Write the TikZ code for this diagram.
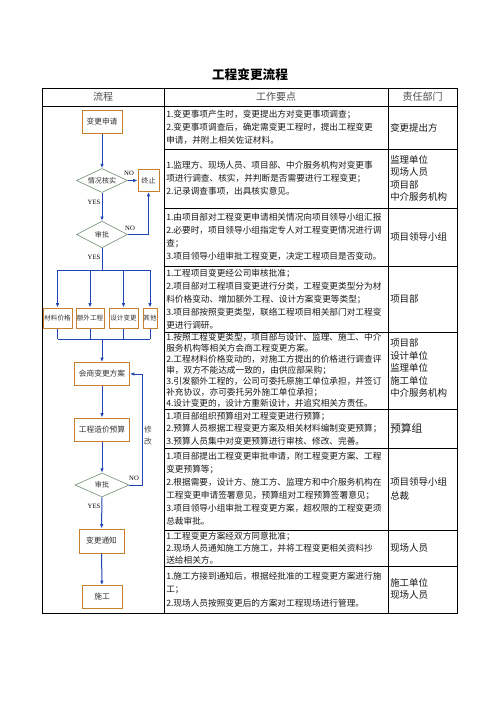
\documentclass[tikz,border=0pt]{standalone}
\usepackage{fontspec}
\newfontfamily\cjk{Noto Sans CJK SC}
\newfontfamily\yesfont{Liberation Serif}
\usetikzlibrary{shapes.geometric,arrows.meta}
\definecolor{boxor}{RGB}{200,128,48}
\definecolor{diag}{RGB}{125,150,125}
\definecolor{arrb}{RGB}{30,70,180}
\definecolor{txt}{RGB}{25,25,25}
\begin{document}
\begin{tikzpicture}[x=0.75pt,y=-0.75pt,
  fb/.style={draw=boxor,line width=0.75pt,fill=white,inner sep=0pt,font=\cjk\fontsize{5.8}{7}\selectfont,text=black!80},
  sm/.style={font=\cjk\fontsize{4.9}{6}\selectfont},
  dia/.style={diamond,draw=diag,line width=0.5pt,fill=white,inner sep=0pt,aspect=2,font=\cjk\fontsize{5.3}{6}\selectfont,text=black!80},
  arr/.style={draw=arrb,line width=0.75pt,-{Latex[length=3.2pt,width=2.6pt]}},
  ln/.style={draw=arrb,line width=0.75pt},
  yn/.style={font=\yesfont\fontsize{5}{5}\selectfont,inner sep=0pt},
  tbl/.style={draw=black,line width=0.6pt},
  rowtxt/.style={anchor=west,align=left,inner sep=0pt,font=\cjk\fontsize{6.5}{9.75}\selectfont,text=txt},
  deptxt/.style={anchor=west,align=left,inner sep=0pt,font=\cjk\fontsize{7.1}{9.4}\selectfont,text=txt},
  head/.style={font=\cjk\fontsize{7.5}{9}\selectfont,text=black!70,inner sep=0pt}
]
\useasboundingbox[fill=white] (0,0) rectangle (496,702);

% title
\node[font=\cjk\bfseries\fontsize{9.5}{11}\selectfont,inner sep=0pt] (title) at (250,75) {工程变更流程};

% table
\draw[tbl] (42,88) rectangle (457,613);
\draw[tbl] (42,106) -- (457,106);
\foreach \y in {149,208,266,332,409,448,530,566} \draw[tbl] (164.5,\y) -- (457,\y);
\draw[tbl] (164.5,88) -- (164.5,613);
\draw[tbl] (388,88) -- (388,613);

\node[head] (h1) at (103,97) {流程};
\node[head] (h2) at (276,97) {工作要点};
\node[head] (h3) at (422.5,97) {责任部门};

% column 2 text
\node[rowtxt] (r1) at (166,127.5) {1.变更事项产生时，变更提出方对变更事项调查；\\2.变更事项调查后，确定需变更工程时，提出工程变更\\申请，并附上相关佐证材料。};
\node[rowtxt] (r2) at (166,178.5) {1.监理方、现场人员、项目部、中介服务机构对变更事\\项进行调查、核实，并判断是否需要进行工程变更；\\2.记录调查事项，出具核实意见。};
\node[rowtxt] (r3) at (166,237) {1.由项目部对工程变更申请相关情况向项目领导小组汇报\\2.必要时，项目领导小组指定专人对工程变更情况进行调\\查；\\3.项目领导小组审批工程变更，决定工程项目是否变动。};
\node[rowtxt] (r4) at (166,299) {1.工程项目变更经公司审核批准；\\2.项目部对工程项目变更进行分类，工程变更类型分为材\\料价格变动、增加额外工程、设计方案变更等类型；\\3.项目部按照变更类型，联络工程项目相关部门对工程变\\更进行调研。};
\node[rowtxt,font=\cjk\fontsize{6.5}{8.25}\selectfont] (r5) at (166,370.5) {1.按照工程变更类型，项目部与设计、监理、施工、中介\\服务机构等相关方会商工程变更方案。\\2.工程材料价格变动的，对施工方提出的价格进行调查评\\审，双方不能达成一致的，由供应部采购；\\3.引发额外工程的，公司可委托原施工单位承担，并签订\\补充协议，亦可委托另外施工单位承担；\\4.设计变更的，设计方重新设计，并追究相关方责任。};
\node[rowtxt,font=\cjk\fontsize{6.5}{9.4}\selectfont] (r6) at (166,428.5) {1.项目部组织预算组对工程变更进行预算；\\2.预算人员根据工程变更方案及相关材料编制变更预算；\\3.预算人员集中对变更预算进行审核、修改、完善。};
\node[rowtxt] (r7) at (166,489) {1.项目部提出工程变更审批申请，附工程变更方案、工程\\变更预算等；\\2.根据需要，设计方、施工方、监理方和中介服务机构在\\工程变更申请签署意见，预算组对工程预算签署意见；\\3.项目领导小组审批工程变更方案，超权限的工程变更须\\总裁审批。};
\node[rowtxt,font=\cjk\fontsize{6.5}{9}\selectfont] (r8) at (166,548) {1.工程变更方案经双方同意批准；\\2.现场人员通知施工方施工，并将工程变更相关资料抄\\送给相关方。};
\node[rowtxt,font=\cjk\fontsize{6.5}{10.2}\selectfont] (r9) at (166,589.5) {1.施工方接到通知后，根据经批准的工程变更方案进行施\\工；\\2.现场人员按照变更后的方案对工程现场进行管理。};

% column 3 text
\node[deptxt] (d1) at (390,127.5) {变更提出方};
\node[deptxt] (d2) at (390,178.5) {监理单位\\现场人员\\项目部\\中介服务机构};
\node[deptxt] (d3) at (390,237) {项目领导小组};
\node[deptxt] (d4) at (390,299) {项目部};
\node[deptxt] (d5) at (390,368) {项目部\\设计单位\\监理单位\\施工单位\\中介服务机构};
\node[deptxt,font=\cjk\fontsize{8}{9.5}\selectfont] (d6) at (390,428.5) {预算组};
\node[deptxt,font=\cjk\fontsize{7.1}{10}\selectfont] (d7) at (390,489) {项目领导小组\\总裁};
\node[deptxt] (d8) at (390,548) {现场人员};
\node[deptxt] (d9) at (390,589) {施工单位\\现场人员};

% flowchart
\node[fb,minimum width=30pt,minimum height=17.25pt] (req) at (102,122) {变更申请};
\node[dia,minimum width=38.25pt,minimum height=18pt] (chk) at (102,180.5) {情况核实};
\node[fb,minimum width=15.75pt,minimum height=16.5pt,font=\cjk\fontsize{5.3}{6}\selectfont] (stop) at (148.5,180.5) {终止};
\node[dia,minimum width=38.25pt,minimum height=20pt] (app1) at (102,234.5) {审批};

\node[fb,sm,minimum width=21.75pt,minimum height=15pt] (b1) at (57.5,318) {材料价格};
\node[fb,sm,minimum width=21pt,minimum height=15pt] (b2) at (90,318) {额外工程};
\node[fb,sm,minimum width=21.75pt,minimum height=15pt] (b3) at (123.5,318) {设计变更};
\node[fb,sm,minimum width=10.5pt,minimum height=15pt] (b4) at (150,318) {其他};

\node[fb,minimum width=41.25pt,minimum height=17.25pt] (meet) at (102,374) {会商变更方案};
\node[fb,minimum width=41.25pt,minimum height=17.25pt] (budget) at (102,429.5) {工程造价预算};
\node[dia,minimum width=40.5pt,minimum height=18pt] (app2) at (102,485) {审批};
\node[fb,minimum width=33.75pt,minimum height=18pt] (notice) at (101.5,541) {变更通知};
\node[fb,minimum width=30pt,minimum height=17.25pt] (build) at (102,597) {施工};

\coordinate (t0) at (102,270);
\coordinate (u0) at (102,339);
\coordinate (ret) at (142,485);

\draw[arr] (req) -- (chk);
\draw[arr] (chk) -- (stop);
\draw[arr] (chk) -- (app1);
\draw[arr] (app1.east) -| (stop.south);
\draw[ln] (app1) -- (t0);
\draw[ln] (b1 |- t0) -- (b4 |- t0);
\foreach \b in {b1,b2,b3,b4} \draw[arr] (\b |- t0) -- (\b);
\foreach \b in {b1,b2,b3,b4} \draw[ln] (\b) -- (\b |- u0);
\draw[ln] (b1 |- u0) -- (b4 |- u0);
\draw[arr] (u0) -- (meet);
\draw[arr] (meet) -- (budget);
\draw[arr] (budget) -- (app2);
\draw[arr] (app2.east) -- (ret) |- (meet.east);
\draw[arr] (app2) -- (notice);
\draw[arr] (notice) -- (build);

\node[yn] (no1) at (129,173) {NO};
\node[yn] (yes1) at (94,202) {YES};
\node[yn] (no2) at (130,228) {NO};
\node[yn] (yes2) at (94,257) {YES};
\node[yn] (no3) at (134,478) {NO};
\node[yn] (yes3) at (94,506) {YES};
\node[font=\cjk\fontsize{5.8}{9}\selectfont,align=center,inner sep=0pt,text=black!70] (mod) at (148,436) {修\\改};
\end{tikzpicture}
\end{document}
